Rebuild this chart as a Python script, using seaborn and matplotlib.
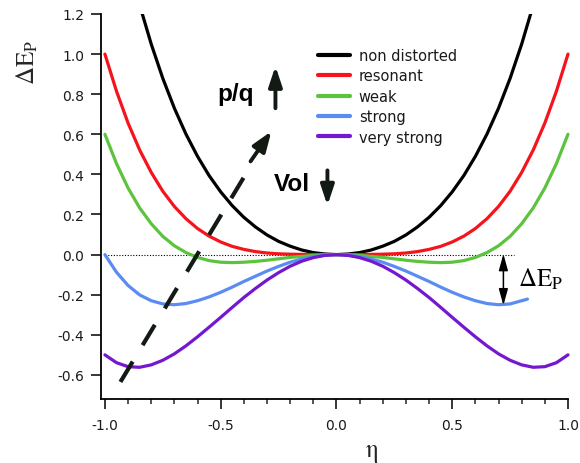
import matplotlib
matplotlib.use("Agg")
import matplotlib.pyplot as plt
from matplotlib.ticker import MultipleLocator
import seaborn as sns
import pandas as pd

# ---------------- data ----------------
eta = [-1.00, -0.95, -0.90, -0.85, -0.80, -0.75, -0.70, -0.65, -0.60, -0.55,
       -0.50, -0.45, -0.40, -0.35, -0.30, -0.25, -0.20, -0.15, -0.10, -0.05,
       0.00, 0.05, 0.10, 0.15, 0.20, 0.25, 0.30, 0.35, 0.40, 0.45,
       0.50, 0.55, 0.60, 0.65, 0.70, 0.75, 0.80, 0.85, 0.90, 0.95, 1.00]

eta_non = eta[3:38]
non_distorted = [1.245, 1.050, 0.879, 0.730, 0.601, 0.490, 0.394, 0.313, 0.244,
                 0.186, 0.138, 0.098, 0.066, 0.042, 0.023, 0.010, 0.003, 0.000,
                 0.003, 0.010, 0.023, 0.042, 0.066, 0.098, 0.138, 0.186, 0.244,
                 0.313, 0.394, 0.490, 0.601, 0.730, 0.879, 1.050, 1.245]

resonant = [1.000, 0.815, 0.656, 0.522, 0.410, 0.316, 0.240, 0.179, 0.130, 0.092,
            0.063, 0.041, 0.026, 0.015, 0.008, 0.004, 0.002, 0.001, 0.000, 0.000,
            0.000,
            0.000, 0.000, 0.001, 0.002, 0.004, 0.008, 0.015, 0.026, 0.041, 0.063,
            0.092, 0.130, 0.179, 0.240, 0.316, 0.410, 0.522, 0.656, 0.815, 1.000]

weak = [0.600, 0.454, 0.332, 0.233, 0.154, 0.091, 0.044, 0.010, -0.014, -0.030,
        -0.038, -0.040, -0.038, -0.034, -0.028, -0.021, -0.014, -0.009, -0.004, -0.001,
        0.000,
        -0.001, -0.004, -0.009, -0.014, -0.021, -0.028, -0.034, -0.038, -0.040, -0.038,
        -0.030, -0.014, 0.010, 0.044, 0.091, 0.154, 0.233, 0.332, 0.454, 0.600]

eta_strong = eta[:37] + [0.825]
strong = [0.000, -0.088, -0.154, -0.201, -0.230, -0.246, -0.250, -0.244, -0.230, -0.211,
          -0.188, -0.162, -0.134, -0.108, -0.082, -0.059, -0.038, -0.022, -0.010, -0.003,
          0.000,
          -0.003, -0.010, -0.022, -0.038, -0.059, -0.082, -0.108, -0.134, -0.162, -0.188,
          -0.211, -0.230, -0.244, -0.250, -0.246, -0.230, -0.222]

very_strong = [-0.500, -0.539, -0.559, -0.562, -0.550, -0.527, -0.495, -0.455, -0.410, -0.362,
               -0.313, -0.263, -0.214, -0.169, -0.127, -0.090, -0.058, -0.033, -0.015, -0.004,
               0.000,
               -0.004, -0.015, -0.033, -0.058, -0.090, -0.127, -0.169, -0.214, -0.263, -0.313,
               -0.362, -0.410, -0.455, -0.495, -0.527, -0.550, -0.562, -0.559, -0.539, -0.500]

series_names = ["non distorted", "resonant", "weak", "strong", "very strong"]
series_x = [eta_non, eta, eta, eta_strong, eta]
series_y = [non_distorted, resonant, weak, strong, very_strong]
series_colors = ["#000000", "#f5141c", "#5cc33c", "#5a8cf2", "#7418d0"]

x_ticks = [-1.0, -0.5, 0.0, 0.5, 1.0]
x_tick_labels = ["-1.0", "-0.5", "0.0", "0.5", "1.0"]
y_ticks = [-0.6, -0.4, -0.2, 0.0, 0.2, 0.4, 0.6, 0.8, 1.0, 1.2]
y_tick_labels = ["-0.6", "-0.4", "-0.2", "0.0", "0.2", "0.4", "0.6", "0.8", "1.0", "1.2"]

# ---------------- style ----------------
sns.set_style("ticks")
plt.rcParams["font.family"] = ["DejaVu Sans"]
plt.rcParams["mathtext.fontset"] = "stix"
plt.rcParams["axes.unicode_minus"] = False

fig = plt.figure(figsize=(5.8, 4.64), dpi=100)
ax = fig.add_axes([0.1741, 0.138, 0.8052, 0.8297])

for name, xs, ys, col in zip(series_names, series_x, series_y, series_colors):
    df = pd.DataFrame({"eta": xs, "E": ys})
    sns.lineplot(data=df, x="eta", y="E", color=col, lw=2.3, label=name,
                 estimator=None, sort=False, ax=ax)

for ln in ax.lines[1:]:
    ln.set_clip_on(False)

# dotted zero line
ax.plot([-1.0, 0.765], [0, 0], color="black", lw=0.8, ls=(0, (1, 1.5)), zorder=1)

ax.set_xlim(-1.017, 1.0)
ax.set_ylim(-0.72, 1.2)
ax.set_xticks(x_ticks)
ax.set_xticklabels(x_tick_labels)
ax.xaxis.set_minor_locator(MultipleLocator(0.1))
ax.set_yticks(y_ticks)
ax.set_yticklabels(y_tick_labels)
ax.tick_params(axis="both", which="major", direction="out", length=7, width=1.1,
               labelsize=10, color="black", labelcolor="#1a1a1a")
ax.tick_params(axis="x", which="major", pad=7)
ax.tick_params(axis="y", which="major", pad=5)
ax.tick_params(axis="x", which="minor", direction="out", length=3.5, width=1.1)
sns.despine(ax=ax)
for s in ["left", "bottom"]:
    ax.spines[s].set_linewidth(1.3)
    ax.spines[s].set_color("black")
ax.set_xlabel("")
ax.set_ylabel("")

# axis labels
fig.text(27 / 580, 1 - 62 / 464, r"$\Delta\mathrm{E}_{\mathrm{P}}$", rotation=90,
         ha="center", va="center", fontsize=18)
fig.text(372 / 580, 1 - 451 / 464, "η", family="STIXGeneral",
         ha="center", va="center", fontsize=18)

# legend
leg = ax.legend(loc="upper left", bbox_to_anchor=(318 / 580, 1 - 49 / 464),
                bbox_transform=fig.transFigure, frameon=False, fontsize=10.5,
                handlelength=2.2, handletextpad=0.6, labelspacing=0.37,
                borderpad=0, borderaxespad=0)
for h in leg.get_lines():
    h.set_linewidth(3.0)
for t in leg.get_texts():
    t.set_color("#1a1a1a")

dark = "#131a13"
# dashed arrow
ax.plot([-0.933, -0.382], [-0.635, 0.42], color=dark, lw=3,
        ls=(0, (5.7, 4.6)), solid_capstyle="butt", clip_on=False)
ax.annotate("", xy=(-0.281, 0.615), xytext=(-0.371, 0.465),
            arrowprops=dict(arrowstyle="-|>,head_length=0.6,head_width=0.22",
                            mutation_scale=20, lw=2.8, color=dark,
                            shrinkA=0, shrinkB=0))

# p/q and Vol annotations
ax.text(-0.436, 0.805, "p/q", family="Liberation Sans", fontweight="bold",
        fontsize=17.5, ha="center", va="center", color="black")
ax.annotate("", xy=(-0.2635, 0.94), xytext=(-0.2635, 0.73),
            arrowprops=dict(arrowstyle="-|>,head_length=0.6,head_width=0.2",
                            mutation_scale=20, lw=2.8, color=dark,
                            shrinkA=0, shrinkB=0))
ax.text(-0.194, 0.355, "Vol", family="Liberation Sans", fontweight="bold",
        fontsize=17.5, ha="center", va="center", color="black")
ax.annotate("", xy=(-0.039, 0.245), xytext=(-0.039, 0.42),
            arrowprops=dict(arrowstyle="-|>,head_length=0.6,head_width=0.2",
                            mutation_scale=20, lw=2.8, color=dark,
                            shrinkA=0, shrinkB=0))

# Delta E_P double arrow
ax.annotate("", xy=(0.721, 0.003), xytext=(0.721, -0.253),
            arrowprops=dict(arrowstyle="<|-|>,head_length=0.9,head_width=0.25",
                            mutation_scale=11, lw=1.1, color="black",
                            shrinkA=0, shrinkB=0))
ax.text(0.786, -0.12, r"$\Delta\mathrm{E}_{\mathrm{P}}$", ha="left", va="center",
        fontsize=18, color="black")

fig.savefig("out.png", dpi=100)
